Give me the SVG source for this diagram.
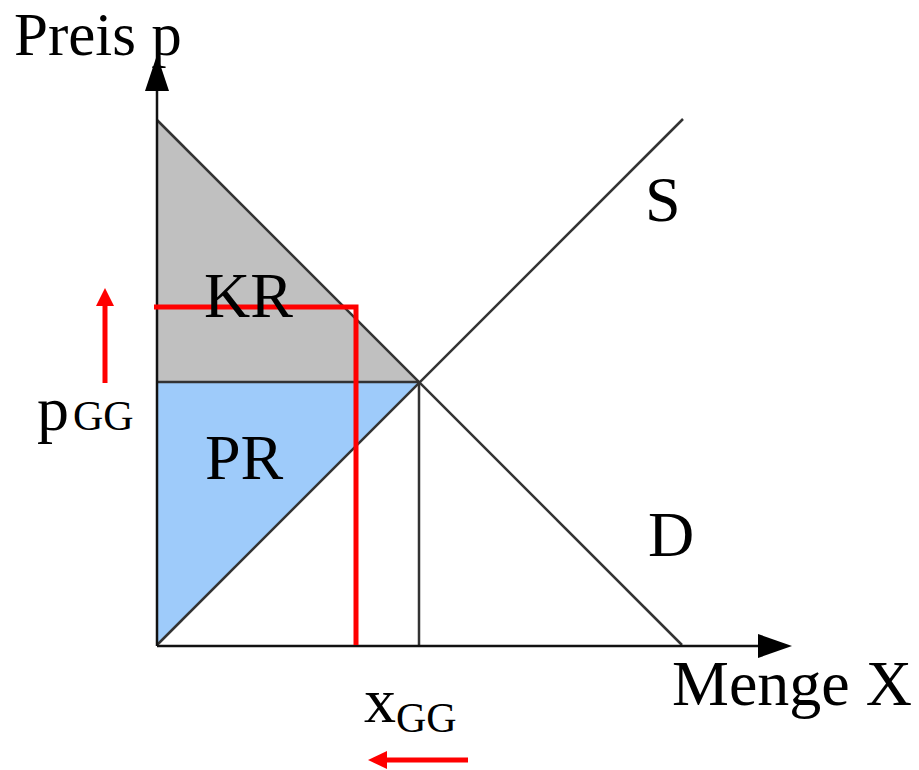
<svg xmlns="http://www.w3.org/2000/svg" width="919" height="770" viewBox="0 0 919 770">
<style>
text{font-family:"Liberation Serif","Times New Roman",serif;fill:#000}
.big{font-size:64px}
.sub{font-size:42px}
.ln{stroke:#333;stroke-width:2.5;fill:none}
.ax{stroke:#111;stroke-width:2.5;fill:none}
.red{stroke:#ff0000;stroke-width:5;fill:none}
</style>
<g id="areas">
<polygon id="KR-area" points="157,120 419,382 157,382" fill="#c0c0c0"/>
<polygon id="PR-area" points="157,382 419,382 157,645" fill="#9ecbfa"/>
</g>
<g id="connectors">
<line class="ln" x1="157" y1="120" x2="682" y2="645"/>
<line class="ln" x1="157" y1="645" x2="683" y2="119"/>
<line class="ln" x1="157" y1="382" x2="419" y2="382"/>
<line class="ln" x1="419" y1="382" x2="419" y2="645"/>
<line class="ax" x1="157" y1="646" x2="157" y2="90"/>
<polygon points="157,55 145,91 169,91" fill="#000"/>
<line class="ax" x1="157" y1="646" x2="760" y2="646"/>
<polygon points="792,646 758,634 758,658" fill="#000"/>
<polyline class="red" points="154,307 356,307 356,645"/>
<line class="red" x1="105" y1="383" x2="105" y2="303"/>
<polygon points="105,288 96,306 114,306" fill="#ff0000"/>
<line class="red" x1="468" y1="760" x2="384" y2="760"/>
<polygon points="368,760 387,751 387,769" fill="#ff0000"/>
</g>
<g id="labels">
<text id="preis" x="14" y="55" style="font-size:61px">Preis p</text>
<text id="menge" class="big" x="672" y="705">Menge X</text>
<text id="S" class="big" x="645" y="221">S</text>
<text id="D" class="big" x="648" y="556">D</text>
<text id="KR" class="big" x="204" y="317">KR</text>
<text id="PR" class="big" x="205" y="479">PR</text>
<text id="pgg" x="37" y="430"><tspan class="big">p</tspan><tspan class="sub" dx="4">GG</tspan></text>
<text id="xgg" x="364" y="722"><tspan class="big">x</tspan><tspan class="sub" dy="10">GG</tspan></text>
</g>
</svg>
